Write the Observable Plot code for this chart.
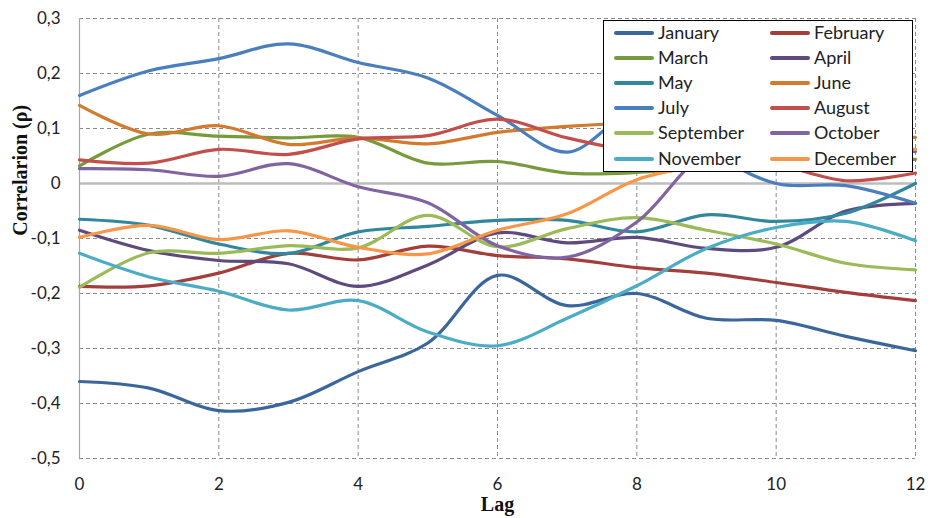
<!DOCTYPE html>
<html>
<head>
<meta charset="utf-8">
<script src="https://cdn.jsdelivr.net/npm/d3@7"></script>
<script src="https://cdn.jsdelivr.net/npm/@observablehq/plot@0.6"></script>
<style>
  body { margin: 0; background: #fff; }
  #wrap { position: relative; width: 930px; height: 518px; }
  #legend {
    position: absolute; left: 603px; top: 20px; width: 308px; height: 150px;
    border: 1.5px solid #000; background: #fff; box-sizing: content-box;
    font-family: Lato, "Open Sans", sans-serif; font-size: 18px; color: #222;
  }
  .item { position: absolute; height: 25px; line-height: 25px; white-space: nowrap; }
  .sw { position: absolute; top: 10px; width: 40px; height: 4px; border-radius: 2px; }
  .lbl { position: absolute; left: 44px; top: -1px; }
</style>
</head>
<body>
<div id="wrap"></div>
<script>
const lags = [0, 1, 2, 3, 4, 5, 6, 7, 8, 9, 10, 11, 12];
const months = ["January", "February", "March", "April", "May", "June",
  "July", "August", "September", "October", "November", "December"];
const colors = ["#3B669B", "#A33E3B", "#789A3D", "#5F4A7D", "#31879D", "#D27A2E",
  "#4A7EBD", "#C24F4C", "#9BBB59", "#8064A2", "#4BACC6", "#F79646"];

const january   = [-0.360, -0.372, -0.413, -0.398, -0.342, -0.290, -0.167, -0.222, -0.200, -0.245, -0.249, -0.278, -0.304];
const february  = [-0.187, -0.186, -0.163, -0.127, -0.139, -0.114, -0.131, -0.137, -0.153, -0.163, -0.180, -0.198, -0.213];
const march     = [0.032, 0.090, 0.086, 0.083, 0.084, 0.037, 0.040, 0.019, 0.020, 0.030, 0.040, 0.042, 0.044];
const april     = [-0.085, -0.122, -0.140, -0.146, -0.187, -0.148, -0.090, -0.108, -0.098, -0.118, -0.116, -0.050, -0.036];
const may       = [-0.065, -0.076, -0.110, -0.127, -0.088, -0.078, -0.067, -0.067, -0.088, -0.057, -0.069, -0.054, 0.000];
const june      = [0.142, 0.090, 0.105, 0.071, 0.083, 0.072, 0.093, 0.104, 0.110, 0.110, 0.100, 0.090, 0.084];
const july      = [0.160, 0.205, 0.227, 0.254, 0.220, 0.192, 0.124, 0.057, 0.130, 0.060, 0.000, -0.004, -0.036];
const august    = [0.043, 0.037, 0.062, 0.053, 0.081, 0.087, 0.117, 0.083, 0.058, 0.050, 0.035, 0.005, 0.019];
const september = [-0.189, -0.126, -0.127, -0.113, -0.117, -0.058, -0.115, -0.082, -0.062, -0.085, -0.110, -0.145, -0.157];
const october   = [0.027, 0.025, 0.013, 0.036, -0.006, -0.035, -0.113, -0.134, -0.070, 0.055, 0.075, 0.070, 0.058];
const november  = [-0.127, -0.170, -0.196, -0.230, -0.213, -0.270, -0.295, -0.245, -0.186, -0.118, -0.080, -0.069, -0.104];
const december  = [-0.098, -0.076, -0.102, -0.086, -0.116, -0.128, -0.085, -0.055, 0.007, 0.035, 0.060, 0.065, 0.062];

const yTicks = [-0.5, -0.4, -0.3, -0.2, -0.1, 0, 0.1, 0.2, 0.3];
const xTicks = [0, 2, 4, 6, 8, 10, 12];
const yTitle = "Correlarion (ρ)";
const xTitle = "Lag";

const series = [january, february, march, april, may, june, july, august, september, october, november, december];
const rows = [];
series.forEach((vals, i) => vals.forEach((v, j) => rows.push({month: months[i], lag: lags[j], value: v})));

const fmt = d => d === 0 ? "0" : (d < 0 ? "-" : "") + Math.abs(d).toFixed(1).replace(".", ",");

const chart = Plot.plot({
  width: 930,
  height: 518,
  marginLeft: 79,
  marginRight: 15,
  marginTop: 18,
  marginBottom: 60,
  style: {fontFamily: "Lato, 'Open Sans', sans-serif", fontSize: "17px", background: "#fff", color: "#222"},
  x: {domain: [0, 12]},
  y: {domain: [-0.5, 0.3]},
  color: {domain: months, range: colors},
  marks: [
    Plot.gridY(yTicks.filter(d => d !== 0), {stroke: "#8a8a8a", strokeOpacity: 1, strokeDasharray: "4,3"}),
    Plot.gridX(xTicks.filter(d => d !== 0), {stroke: "#8a8a8a", strokeOpacity: 1, strokeDasharray: "4,3"}),
    Plot.ruleY([0], {stroke: "#BDBDBD", strokeWidth: 2.5}),
    Plot.ruleX([0], {stroke: "#A8A8A8", strokeWidth: 1.2}),
    Plot.axisY({ticks: yTicks, tickFormat: fmt, tickSize: 0, tickPadding: 19, label: null, fontSize: 17}),
    Plot.axisX({ticks: xTicks, tickFormat: d => String(d), tickSize: 0, tickPadding: 19, label: null, fontSize: 17}),
    Plot.line(rows, {x: "lag", y: "value", z: "month", stroke: "month", strokeWidth: 3.2, curve: "catmull-rom"}),
    Plot.text([yTitle], {text: d => d, y: () => 0.024, frameAnchor: "left", dx: -59, rotate: -90,
      textAnchor: "middle", lineAnchor: "middle",
      fontFamily: "'Liberation Serif', serif", fontWeight: "bold", fontSize: 20, fill: "#111"}),
    Plot.text([xTitle], {text: d => d, x: () => 6, frameAnchor: "bottom", dy: 46, lineAnchor: "middle",
      fontFamily: "'Liberation Serif', serif", fontWeight: "bold", fontSize: 20, fill: "#111"})
  ]
});

const wrap = document.getElementById("wrap");
wrap.appendChild(chart);

const legend = document.createElement("div");
legend.id = "legend";
months.forEach((m, i) => {
  const col = i % 2, row = Math.floor(i / 2);
  const item = document.createElement("div");
  item.className = "item";
  item.style.left = (col === 0 ? 10 : 166) + "px";
  item.style.top = (row * 25.2 - 0.5) + "px";
  const sw = document.createElement("div");
  sw.className = "sw";
  sw.style.background = colors[i];
  const lbl = document.createElement("span");
  lbl.className = "lbl";
  lbl.textContent = m;
  item.appendChild(sw);
  item.appendChild(lbl);
  legend.appendChild(item);
});
wrap.appendChild(legend);
</script>
</body>
</html>
